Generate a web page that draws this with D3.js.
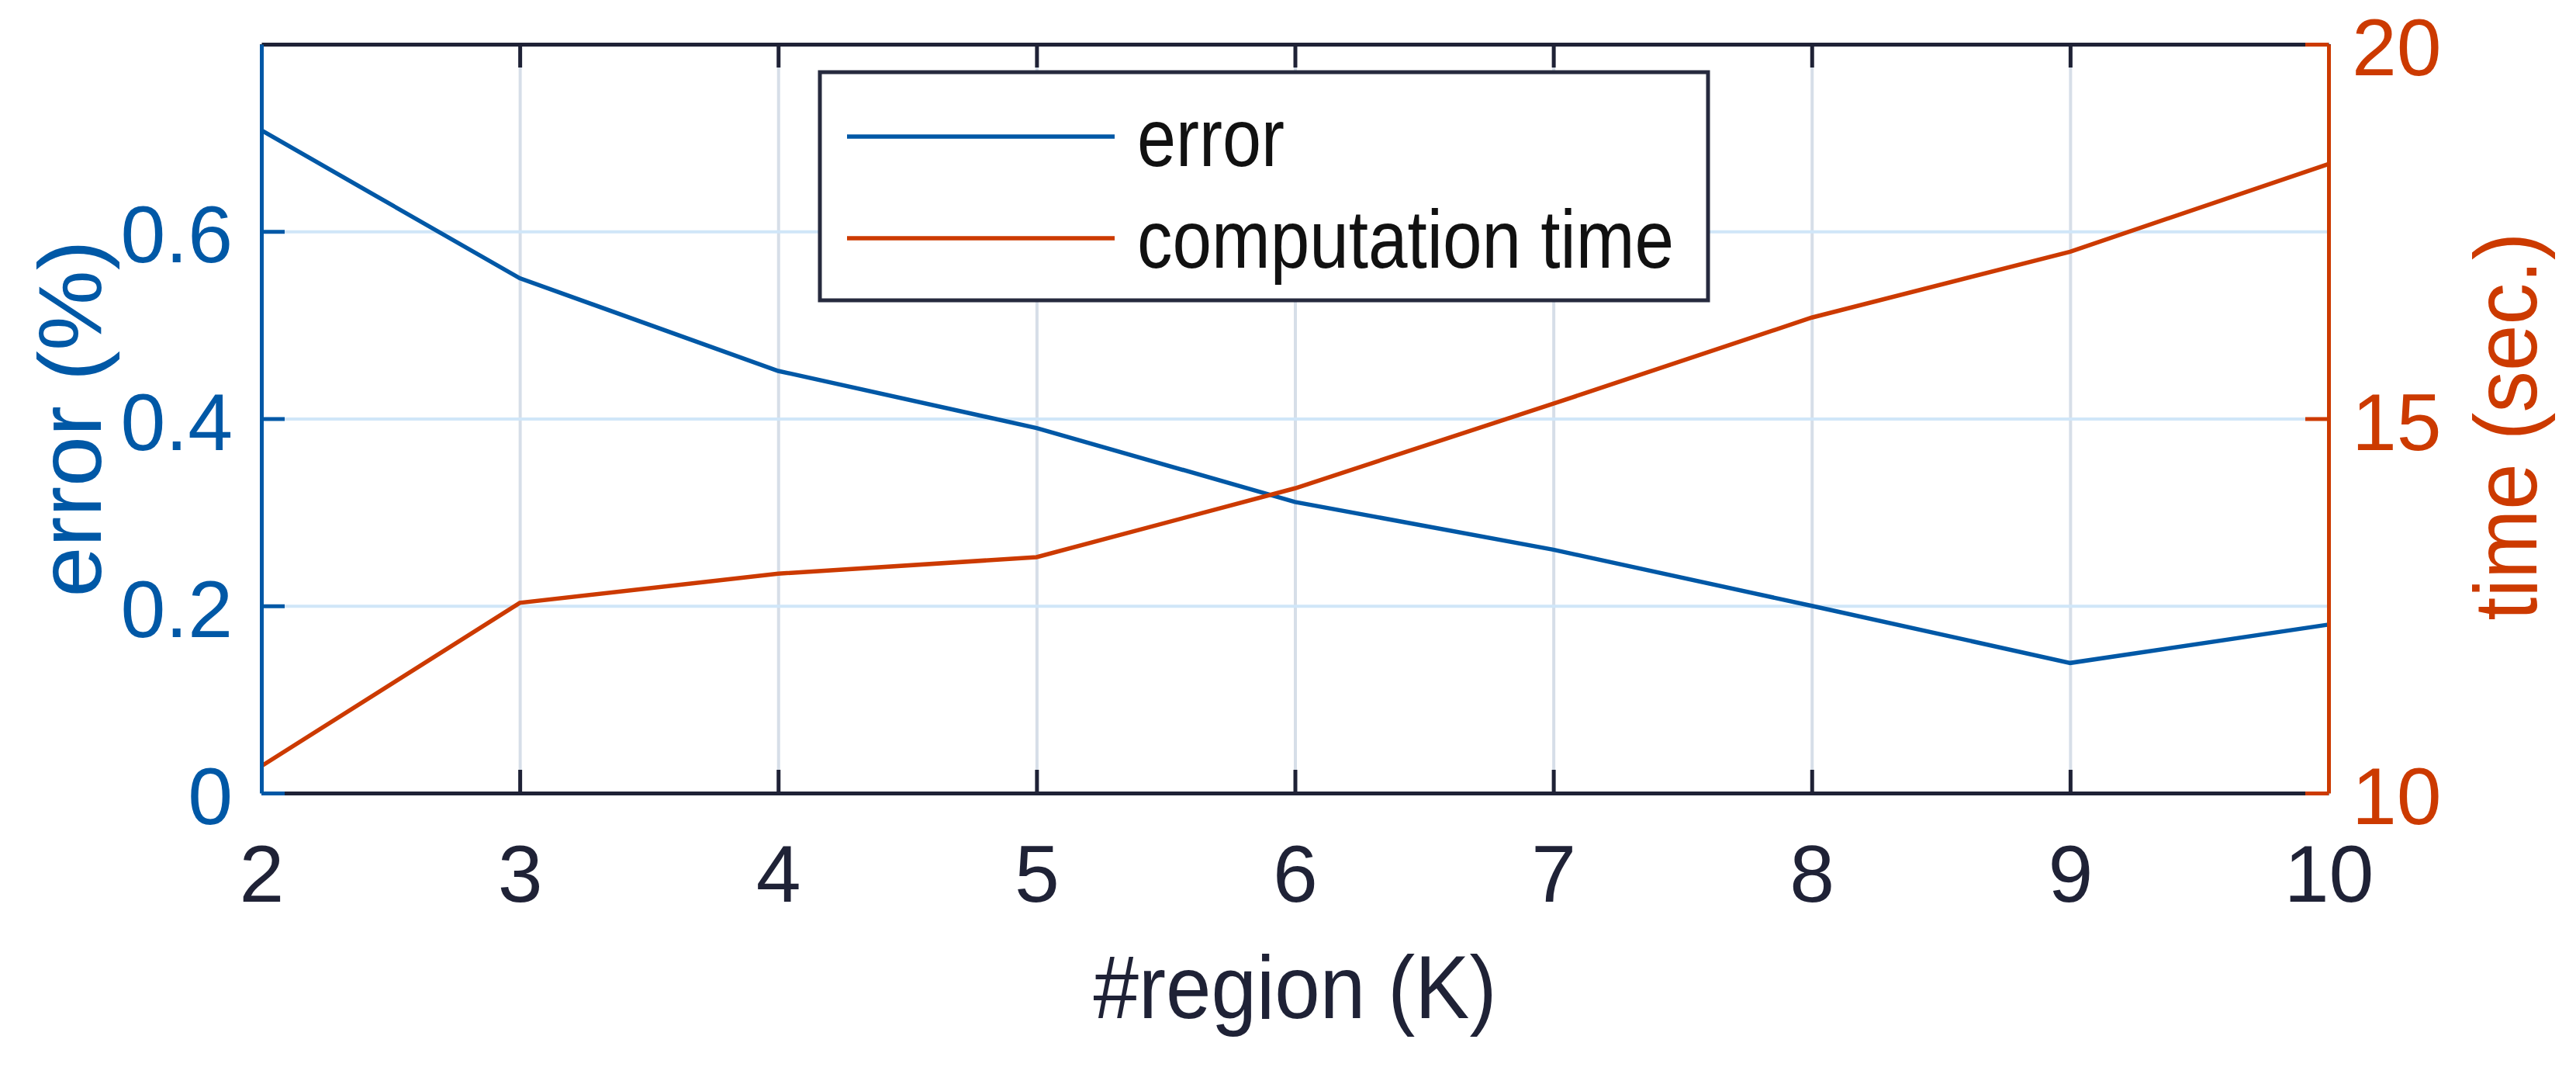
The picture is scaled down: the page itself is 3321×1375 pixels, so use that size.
<!DOCTYPE html>
<html lang="en">
<head>
  <meta charset="UTF-8" />
  <title>Error and computation time vs #region</title>
  <script src="https://d3js.org/d3.v7.min.js"></script>
  <style>
    body { margin: 0; background: white; font-family: "Liberation Sans", Arial, sans-serif; }
    svg { display: block; }
  </style>
</head>
<body>
  <svg id="chart" width="3321" height="1375"></svg>

  <script>
    // data
    const regions = [2, 3, 4, 5, 6, 7, 8, 9, 10];
    const errorPct = [0.708, 0.55, 0.451, 0.39, 0.311, 0.26, 0.20, 0.139, 0.18];
    const timeSec = [10.36, 12.54, 12.93, 13.15, 14.07, 15.2, 16.35, 17.23, 18.4];
    const errorTicks = [0, 0.2, 0.4, 0.6];
    const timeTicks = [10, 15, 20];
    const seriesNames = ["error", "computation time"];

    const blue = "#0058a6", orange = "#cc3a00", dark = "#1f2236";

    const svg = d3.select("#chart"),
          width = +svg.attr("width"),
          height = +svg.attr("height");
    const margin = { top: 57, right: 319, bottom: 353, left: 337 };
    const w = width - margin.left - margin.right,
          h = height - margin.top - margin.bottom;

    const g = svg.append("g").attr("transform", `translate(${margin.left},${margin.top})`);

    const x = d3.scaleLinear().domain([2, 10]).range([0, w]);
    const yL = d3.scaleLinear().domain([0, 0.8]).range([h, 0]);
    const yR = d3.scaleLinear().domain([10, 20]).range([h, 0]);

    // grid
    g.append("g").attr("class", "xgrid")
      .call(d3.axisBottom(x).tickValues(regions).tickSize(h).tickFormat(""))
      .call(s => s.select(".domain").remove())
      .selectAll("line").attr("stroke", "#d6dee8").attr("stroke-width", 4);
    g.append("g").attr("class", "ygrid")
      .call(d3.axisRight(yL).tickValues(errorTicks.slice(1)).tickSize(w).tickFormat(""))
      .call(s => s.select(".domain").remove())
      .selectAll("line").attr("stroke", "#d0e6f8").attr("stroke-width", 4);

    // lines
    const lineErr = d3.line().x((d, i) => x(regions[i])).y(d => yL(d));
    const lineTime = d3.line().x((d, i) => x(regions[i])).y(d => yR(d));
    g.append("path").datum(errorPct).attr("d", lineErr)
      .attr("fill", "none").attr("stroke", blue).attr("stroke-width", 5.5);
    g.append("path").datum(timeSec).attr("d", lineTime)
      .attr("fill", "none").attr("stroke", orange).attr("stroke-width", 5.5);

    function styleAxis(sel, color, size) {
      sel.select(".domain").attr("stroke", color).attr("stroke-width", 5);
      sel.selectAll(".tick line").attr("stroke", color).attr("stroke-width", 5);
      sel.selectAll(".tick text").attr("fill", color)
        .attr("font-family", "'Liberation Sans', Arial, sans-serif")
        .attr("font-size", size);
    }

    // top and bottom axes
    g.append("g")
      .call(d3.axisTop(x).tickValues(regions).tickSizeInner(-30).tickSizeOuter(0).tickFormat(""))
      .call(s => styleAxis(s, dark, 104));
    g.append("g").attr("transform", `translate(0,${h})`)
      .call(d3.axisBottom(x).tickValues(regions).tickSizeInner(-30).tickSizeOuter(0).tickPadding(66))
      .call(s => styleAxis(s, dark, 104));

    // left and right axes
    g.append("g")
      .call(d3.axisLeft(yL).tickValues(errorTicks).tickSizeInner(-30).tickSizeOuter(0).tickPadding(37)
        .tickFormat(d => d === 0 ? "0" : d3.format(".1f")(d)))
      .call(s => styleAxis(s, blue, 104))
      .selectAll(".tick text").attr("dy", "0.38em");
    g.append("g").attr("transform", `translate(${w},0)`)
      .call(d3.axisRight(yR).tickValues(timeTicks).tickSizeInner(-30).tickSizeOuter(0).tickPadding(30))
      .call(s => styleAxis(s, orange, 104))
      .selectAll(".tick text").attr("dy", "0.38em");

    // axis titles
    svg.append("text")
      .attr("x", margin.left + w / 2).attr("y", 1312)
      .attr("text-anchor", "middle").attr("fill", dark)
      .attr("font-size", 115).attr("textLength", 520).attr("lengthAdjust", "spacingAndGlyphs")
      .text("#region (K)");
    svg.append("text")
      .attr("transform", `translate(130,${margin.top + h / 2}) rotate(-90)`)
      .attr("text-anchor", "middle").attr("fill", blue)
      .attr("font-size", 115).attr("textLength", 460).attr("lengthAdjust", "spacingAndGlyphs")
      .text("error (%)");
    svg.append("text")
      .attr("transform", `translate(3270,${margin.top + h / 2 + 10}) rotate(-90)`)
      .attr("text-anchor", "middle").attr("fill", orange)
      .attr("font-size", 115).attr("textLength", 500).attr("lengthAdjust", "spacingAndGlyphs")
      .text("time (sec.)");

    // legend
    const legend = svg.append("g").attr("transform", "translate(1057,93)");
    legend.append("rect").attr("width", 1145).attr("height", 294)
      .attr("fill", "white").attr("stroke", "#262a3e").attr("stroke-width", 5);
    const legendColors = [blue, orange];
    const legendText = [190, 692];
    seriesNames.forEach((name, i) => {
      const yy = [83, 214][i];
      legend.append("line").attr("x1", 35).attr("x2", 380).attr("y1", yy).attr("y2", yy)
        .attr("stroke", legendColors[i]).attr("stroke-width", 5.5);
      legend.append("text").attr("x", 409).attr("y", yy + 38)
        .attr("fill", "#111").attr("font-size", 106)
        .attr("textLength", legendText[i]).attr("lengthAdjust", "spacingAndGlyphs")
        .text(name);
    });
  </script>
</body>
</html>
